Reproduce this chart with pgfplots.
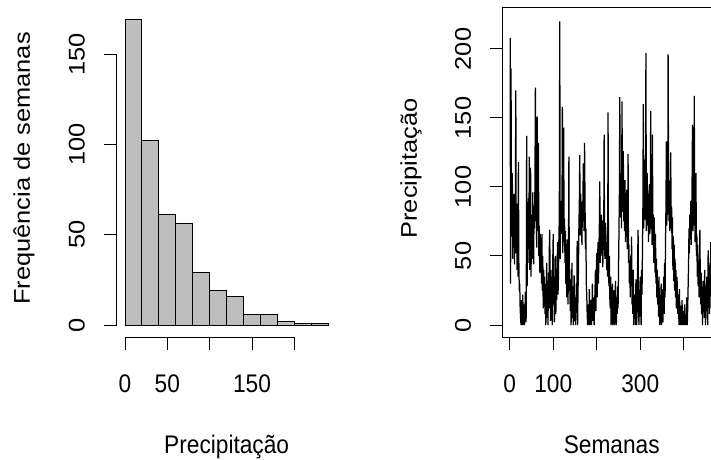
\documentclass[border=0pt]{standalone}
\usepackage{fontspec}
\setmainfont{Liberation Sans}
\usepackage{graphicx}
\usepackage{pgfplots}
\usepackage{pgfplotstable}
\pgfplotsset{compat=1.18}
\definecolor{histgray}{HTML}{BEBEBE}

% weekly precipitation series
\pgfplotstableread[row sep=\\]{p\\
208\\ 30\\ 186\\ 92\\ 64\\ 110\\ 48\\ 78\\ 58\\ 95\\ 44\\ 70\\ 86\\ 170\\ 52\\ 66\\ 40\\ 88\\ 35\\ 118\\ 46\\ 25\\
30\\ 12\\ 5\\ 0\\ 18\\ 0\\ 8\\ 22\\ 0\\ 3\\ 15\\ 0\\ 10\\ 24\\ 2\\ 6\\
137\\ 28\\ 70\\ 45\\ 92\\ 55\\ 122\\ 40\\ 62\\ 114\\ 35\\ 80\\ 58\\ 48\\
96\\ 60\\ 44\\ 86\\ 70\\ 102\\ 172\\ 75\\ 90\\ 56\\ 151\\ 68\\ 84\\ 132\\ 50\\ 72\\ 38\\ 66\\
45\\ 58\\ 30\\ 66\\ 25\\ 50\\ 12\\ 40\\ 20\\ 35\\
8\\ 30\\ 0\\ 15\\ 45\\ 5\\ 22\\ 0\\ 38\\ 12\\ 55\\ 69\\ 20\\ 3\\ 40\\ 10\\ 28\\ 0\\ 48\\ 66\\ 15\\ 35\\ 2\\ 25\\ 50\\ 8\\ 30\\ 18\\ 42\\ 60\\ 22\\
35\\ 62\\ 80\\ 220\\ 48\\ 75\\ 90\\ 66\\ 70\\ 158\\ 52\\ 84\\ 143\\ 60\\ 77\\
45\\ 68\\ 30\\ 55\\ 20\\ 62\\ 38\\ 15\\ 50\\ 122\\ 25\\ 40\\ 10\\ 33\\ 0\\ 18\\ 45\\ 5\\ 28\\ 0\\ 12\\ 36\\ 3\\
20\\ 0\\ 8\\ 30\\ 15\\ 61\\ 0\\ 25\\
40\\ 72\\ 88\\ 123\\ 65\\ 95\\ 80\\ 70\\ 58\\ 90\\ 75\\ 117\\ 84\\ 68\\ 132\\ 92\\ 55\\ 70\\ 30\\
22\\ 8\\ 0\\ 15\\ 4\\ 0\\ 26\\ 10\\ 0\\ 18\\ 5\\ 0\\ 12\\ 30\\ 3\\ 20\\ 8\\ 0\\ 14\\
25\\ 40\\ 10\\ 35\\ 52\\ 20\\ 48\\ 60\\ 30\\ 55\\ 72\\ 104\\ 45\\ 65\\ 50\\ 80\\ 58\\ 70\\ 42\\ 76\\ 62\\ 138\\ 55\\ 48\\ 74\\ 66\\ 52\\ 40\\ 60\\ 35\\ 154\\
45\\ 28\\ 50\\ 20\\ 12\\ 35\\ 0\\ 18\\ 6\\ 30\\ 0\\ 10\\ 25\\ 2\\ 0\\ 15\\ 32\\ 4\\ 0\\ 20\\ 8\\ 28\\ 12\\
40\\ 66\\ 95\\ 165\\ 78\\ 110\\ 88\\ 70\\ 162\\ 100\\ 82\\ 126\\ 75\\ 90\\ 68\\ 105\\ 60\\ 85\\ 72\\ 98\\ 55\\ 66\\ 124\\
45\\ 58\\ 30\\ 42\\ 20\\ 50\\ 35\\ 64\\ 15\\ 28\\ 8\\ 40\\ 0\\ 22\\ 5\\ 18\\ 0\\ 33\\ 10\\ 0\\ 25\\ 48\\ 69\\ 12\\
0\\ 20\\ 6\\ 35\\ 14\\ 0\\ 40\\ 22\\ 52\\
85\\ 160\\ 70\\ 98\\ 76\\ 120\\ 90\\ 197\\ 68\\ 88\\ 110\\ 72\\ 95\\ 60\\ 84\\ 102\\ 66\\ 78\\ 155\\ 70\\ 92\\ 58\\ 138\\
62\\ 80\\ 45\\ 78\\ 55\\ 38\\ 66\\ 30\\ 48\\ 20\\ 40\\ 15\\ 28\\ 6\\ 35\\ 10\\ 0\\ 22\\ 4\\ 30\\ 0\\ 12\\ 26\\ 2\\ 18\\ 35\\ 8\\ 45\\ 20\\
60\\ 85\\ 133\\ 72\\ 98\\ 80\\ 196\\ 110\\ 75\\ 92\\ 68\\ 100\\ 125\\ 70\\ 86\\
55\\ 78\\ 40\\ 64\\ 32\\ 58\\ 25\\ 48\\ 20\\ 40\\ 12\\ 35\\ 30\\ 8\\ 22\\ 15\\ 0\\ 26\\ 5\\ 0\\ 14\\ 3\\ 0\\ 18\\ 0\\ 6\\ 10\\ 0\\ 2\\ 15\\ 0\\ 8\\ 0\\ 4\\ 20\\ 0\\ 12\\ 28\\
45\\ 70\\ 52\\ 80\\ 62\\ 90\\ 58\\ 76\\ 100\\ 145\\ 68\\ 85\\ 72\\ 166\\ 95\\ 60\\ 82\\ 110\\
50\\ 66\\ 35\\ 58\\ 28\\ 45\\ 20\\ 40\\ 69\\ 30\\ 15\\ 38\\ 8\\ 25\\ 0\\ 32\\ 12\\ 22\\ 5\\ 40\\ 18\\ 0\\ 28\\ 10\\ 35\\ 15\\ 0\\ 54\\ 20\\ 30\\ 8\\ 45\\ 25\\ 60\\ 12\\ 38\\ 50\\ 20\\ 65\\ 30\\
}\chuva

\newcommand{\lbl}{\fontsize{22.7}{27}\selectfont}
% text is a little taller than Arial proportions in the reference
\newcommand{\htxt}[1]{\scalebox{1}[1.12]{#1}}
\newcommand{\vtxt}[1]{\scalebox{1.12}[1]{#1}}

\begin{document}
\begin{tikzpicture}
\path[use as bounding box] (0,0) rectangle (711pt,459pt);
\clip (0,0) rectangle (711pt,459pt);

% ---------------- histogram ----------------
\begin{axis}[
  at={(116.9pt,121.8pt)}, anchor=south west, scale only axis,
  width=219.5pt, height=329.4pt, clip=false,
  xmin=-9.6, xmax=249.6, ymin=-6.76, ymax=175.76,
  axis x line*=bottom, axis y line*=left,
  axis line style={draw=none},
  tick align=outside, major tick length=12.5pt,
  tick style={black, line width=1pt},
  xtick={0,50,100,150,200}, ytick={0,50,100,150},
  xticklabels={}, yticklabels={},
]
\addplot[ybar interval, fill=histgray, draw=black, line width=1pt] coordinates {
  (0,169) (20,102) (40,61) (60,56) (80,29) (100,19) (120,16)
  (140,6) (160,6) (180,2) (200,1) (220,1) (240,1)};
\draw[line width=1pt] (axis cs:0,-6.76) -- (axis cs:200,-6.76);
\draw[line width=1pt] (axis cs:-9.6,0) -- (axis cs:-9.6,150);
\pgfplotsinvokeforeach{0,50,150}{
  \node[yshift=-47pt, font=\lbl, anchor=center, inner sep=0pt] at (axis cs:#1,-6.76) {\htxt{#1}};}
\pgfplotsinvokeforeach{0,50,100,150}{
  \node[xshift=-40pt, font=\lbl, anchor=center, inner sep=0pt, rotate=90] at (axis cs:-9.6,#1) {\vtxt{#1}};}
\end{axis}

% ---------------- time series ----------------
\begin{axis}[
  at={(502pt,121.8pt)}, anchor=south west, scale only axis,
  width=219.5pt, height=329.4pt, clip=false,
  xmin=-17.7, xmax=486.7, ymin=-8.84, ymax=229.8,
  axis line style={line width=1pt},
  tick pos=left, tick align=outside, major tick length=12.5pt,
  tick style={black, line width=1pt},
  xtick={0,100,200,300,400}, ytick={0,50,100,150,200},
  xticklabels={}, yticklabels={},
]
\addplot[black, line width=1.25pt, mark=none] table[x expr=\coordindex+1, y=p] {\chuva};
\pgfplotsinvokeforeach{0,100,300}{
  \node[yshift=-47pt, font=\lbl, anchor=center, inner sep=0pt] at (axis cs:#1,-8.84) {\htxt{#1}};}
\pgfplotsinvokeforeach{0,50,100,150,200}{
  \node[xshift=-39pt, font=\lbl, anchor=center, inner sep=0pt, rotate=90] at (axis cs:-17.7,#1) {\vtxt{#1}};}
\end{axis}

% ---------------- axis titles ----------------
\node[font=\lbl, anchor=base, inner sep=0pt] at (226.65pt,6pt) {\htxt{Precipitação}};
\node[font=\lbl, anchor=center, inner sep=0pt, rotate=90] at (24pt,290.5pt) {\vtxt{Frequência de semanas}};
\node[font=\lbl, anchor=base, inner sep=0pt] at (611.75pt,6pt) {\htxt{Semanas}};
\node[font=\lbl, anchor=center, inner sep=0pt, rotate=90] at (411pt,290.5pt) {\vtxt{Precipitação}};
\end{tikzpicture}
\end{document}
